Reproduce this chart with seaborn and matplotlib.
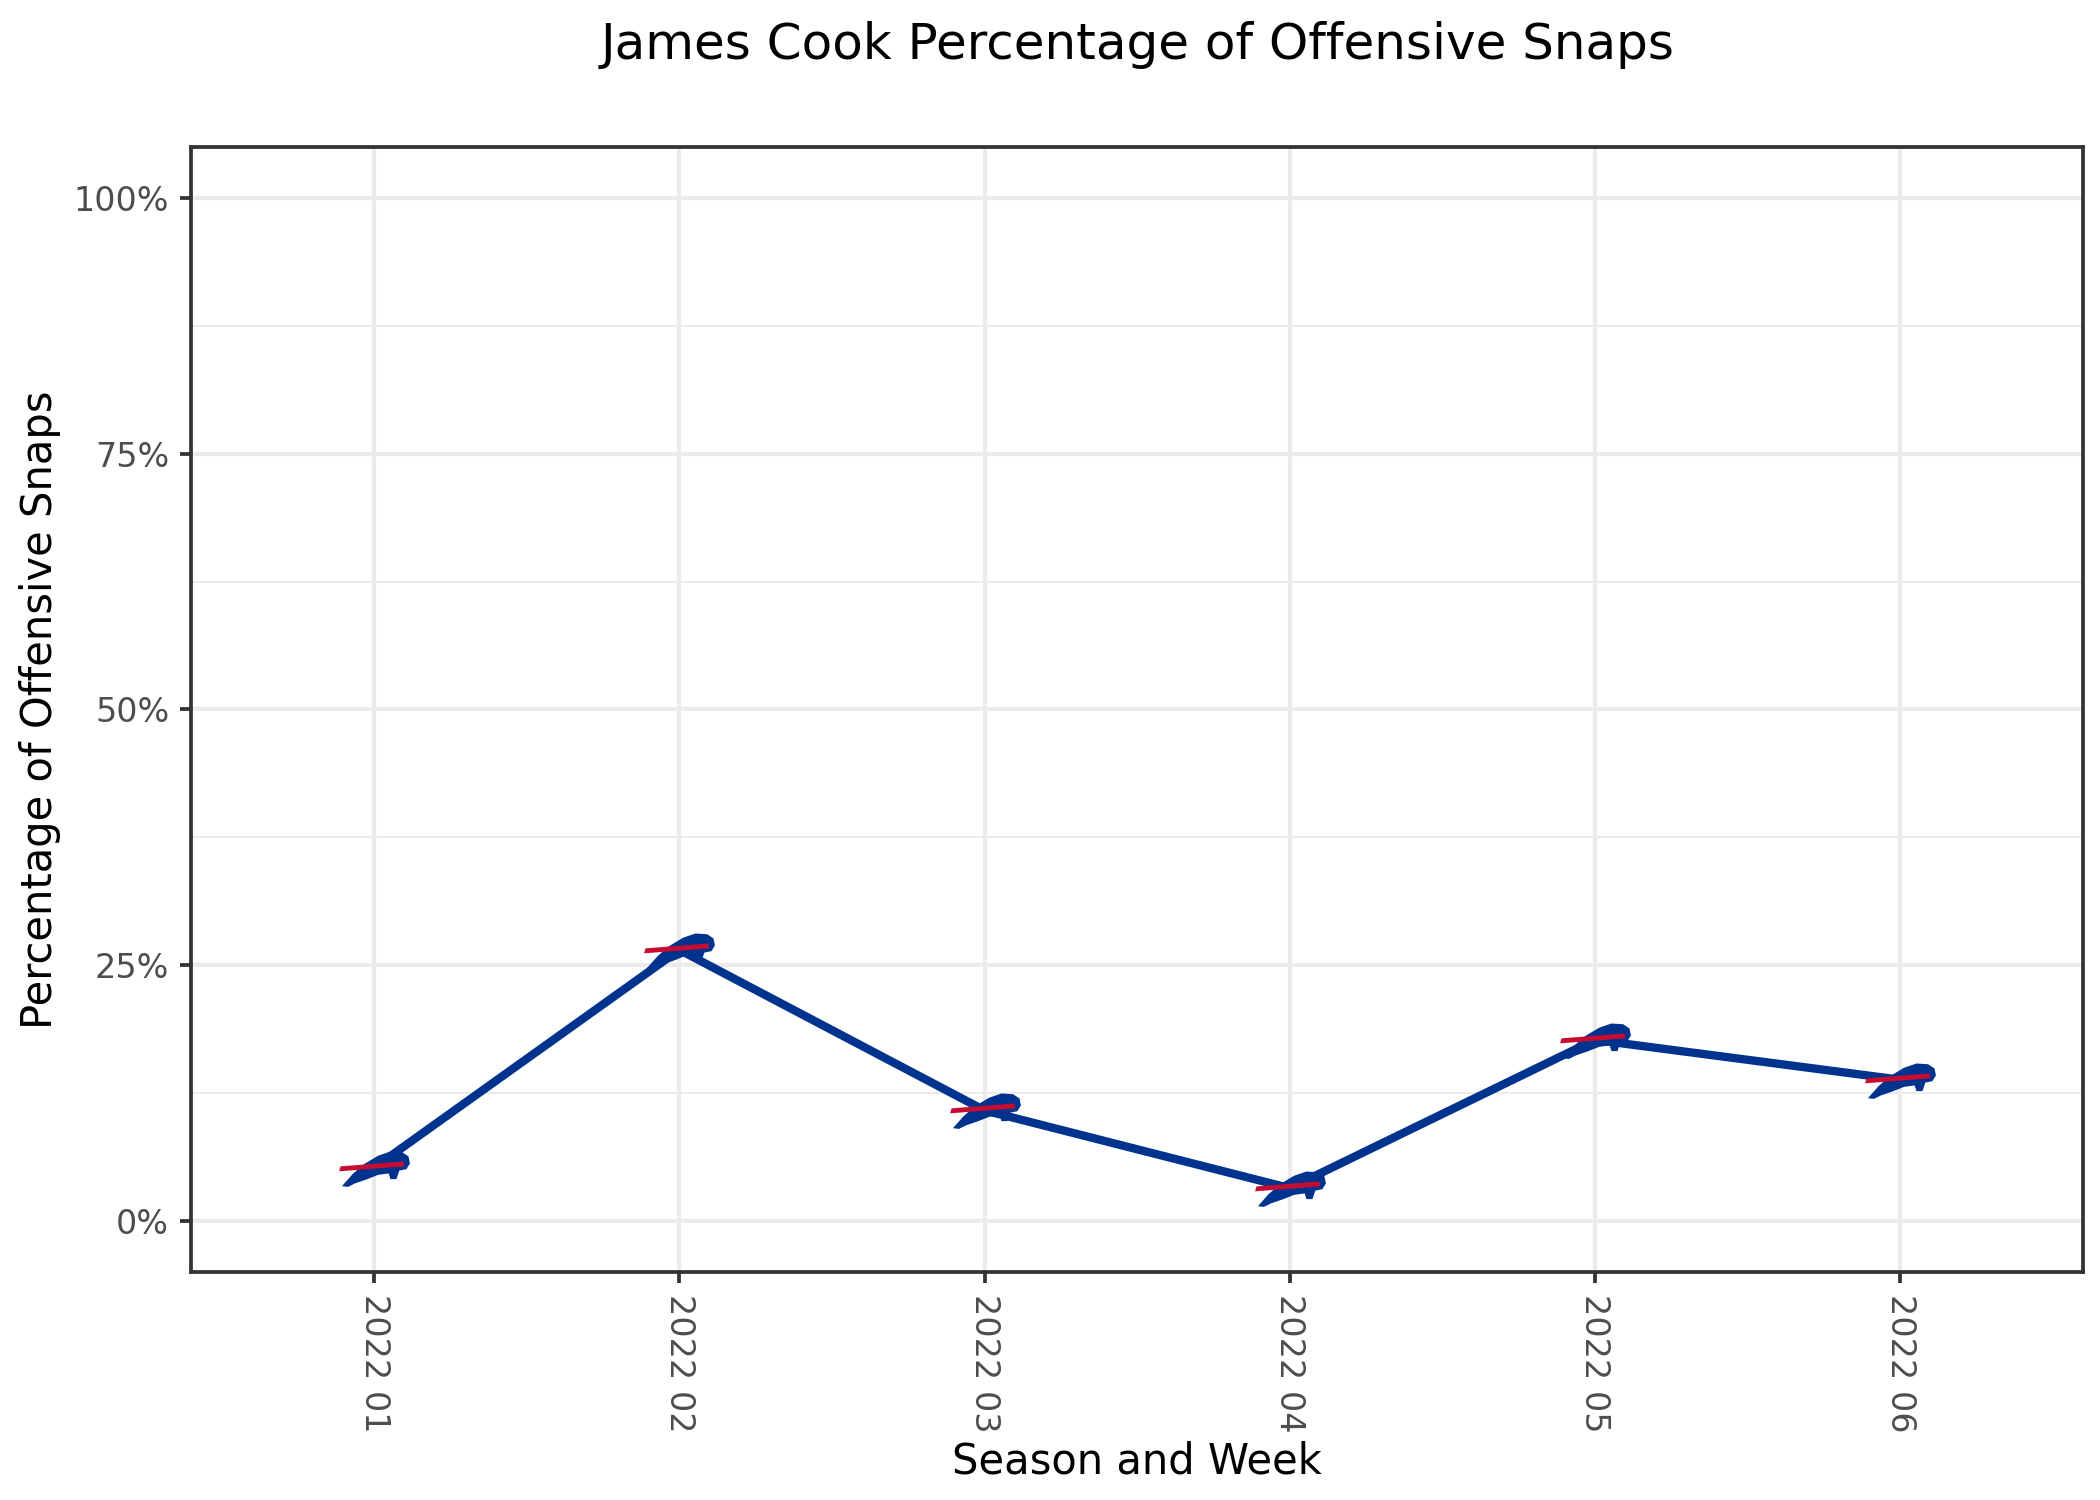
import matplotlib
matplotlib.use("Agg")
import matplotlib.pyplot as plt
import seaborn as sns
import pandas as pd
from matplotlib.path import Path
from matplotlib.ticker import PercentFormatter, MultipleLocator

# chart data
weeks = ["2022 01", "2022 02", "2022 03", "2022 04", "2022 05", "2022 06"]
snap_pct = [0.052, 0.265, 0.108, 0.032, 0.177, 0.138]

bills_blue = "#00338D"
bills_red = "#C60C30"

df = pd.DataFrame({"week": weeks, "pct": snap_pct})

# rough buffalo logo shapes used as markers
buffalo = Path([(-0.92, -0.5), (-0.62, -0.16), (-0.3, 0.12), (0.1, 0.36),
                (0.45, 0.48), (0.78, 0.46), (0.96, 0.34), (1.0, 0.14),
                (0.9, -0.02), (0.7, -0.06), (0.62, -0.3), (0.45, -0.3),
                (0.4, -0.14), (0.1, -0.18), (-0.2, -0.3), (-0.55, -0.42),
                (-0.75, -0.52), (-0.92, -0.5)], closed=True)
stripe = Path([(-1.0, -0.08), (0.84, 0.06), (0.82, 0.2), (-0.96, 0.06),
               (-1.0, -0.08)], closed=True)

sns.set_theme(style="white")
plt.rcParams["font.family"] = ["DejaVu Sans"]

fig, ax = plt.subplots(figsize=(7, 5), dpi=300)
fig.subplots_adjust(left=0.091, right=0.992, top=0.902, bottom=0.152)

sns.lineplot(data=df, x="week", y="pct", color=bills_blue, linewidth=2.0,
             sort=False, ax=ax, zorder=3)
sns.scatterplot(data=df, x="week", y="pct", marker=buffalo, s=17 ** 2,
                color=bills_blue, linewidth=0, ax=ax, zorder=4)
sns.scatterplot(data=df, x="week", y="pct", marker=stripe, s=17 ** 2,
                color=bills_red, linewidth=0, ax=ax, zorder=5)

ax.set_xlim(-0.6, len(weeks) - 0.4)
ax.set_ylim(-0.05, 1.05)
ax.yaxis.set_major_locator(MultipleLocator(0.25))
ax.yaxis.set_minor_locator(MultipleLocator(0.125))
ax.yaxis.set_major_formatter(PercentFormatter(1, decimals=0))

ax.grid(True, which="major", color="#EBEBEB", linewidth=1.0, zorder=0)
ax.grid(True, which="minor", axis="y", color="#EBEBEB", linewidth=0.5, zorder=0)
ax.set_axisbelow(True)

for s in ax.spines.values():
    s.set_color("#333333")
    s.set_linewidth(0.9)

ax.tick_params(axis="both", which="major", length=2.75, width=0.9,
               color="#333333", labelcolor="#4D4D4D", labelsize=8, pad=2.5,
               bottom=True, left=True)
ax.tick_params(axis="both", which="minor", length=0)
plt.setp(ax.get_xticklabels(), rotation=270, ha="center", va="top")

ax.set_xlabel("")
ax.set_ylabel("")
panel_mid = (0.091 + 0.992) / 2
fig.text(panel_mid, 0.026, "Season and Week", fontsize=10, color="black",
         ha="center", va="center")
fig.text(0.019, (0.902 + 0.152) / 2, "Percentage of Offensive Snaps",
         fontsize=10, color="black", rotation=90, ha="center", va="center")
fig.text(panel_mid, 0.970, "James Cook Percentage of Offensive Snaps",
         fontsize=12, color="black", ha="center", va="center")

fig.savefig("out.png", dpi=300, facecolor="white")
